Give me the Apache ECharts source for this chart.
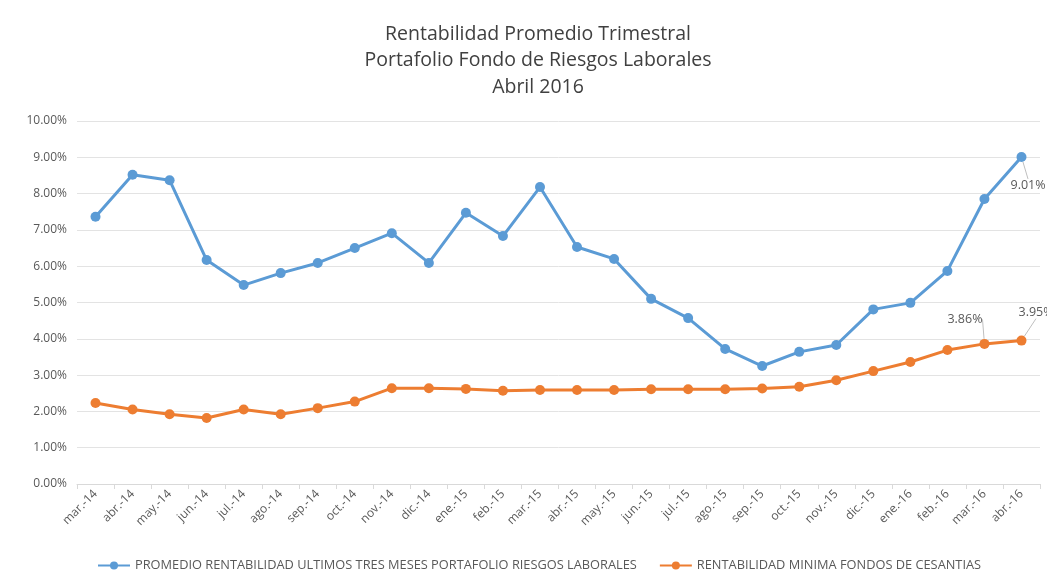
<!DOCTYPE html>
<html>
<head>
<meta charset="UTF-8">
<title></title>
<script src="https://cdn.jsdelivr.net/npm/echarts@6/dist/echarts.min.js"></script>
<style>
	body { margin: 0; background: #fff; }
</style>
</head>
<body>
	<div id="main" style="width: 1047px; height: 587px;"></div>
	<script>
		// categorias (meses)
		var meses = ['mar.-14','abr.-14','may.-14','jun.-14','jul.-14','ago.-14','sep.-14','oct.-14','nov.-14','dic.-14',
			'ene.-15','feb.-15','mar.-15','abr.-15','may.-15','jun.-15','jul.-15','ago.-15','sep.-15','oct.-15',
			'nov.-15','dic.-15','ene.-16','feb.-16','mar.-16','abr.-16'];
		// promedio rentabilidad ultimos tres meses (%)
		var promedio = [7.36, 8.52, 8.37, 6.17, 5.48, 5.81, 6.09, 6.50, 6.91, 6.09,
			7.47, 6.83, 8.18, 6.53, 6.20, 5.10, 4.57, 3.72, 3.25, 3.64,
			3.83, 4.81, 4.99, 5.87, 7.85, 9.01];
		// rentabilidad minima fondos de cesantias (%)
		var minima = [2.23, 2.05, 1.92, 1.82, 2.05, 1.92, 2.09, 2.27, 2.64, 2.64,
			2.62, 2.57, 2.59, 2.59, 2.59, 2.61, 2.61, 2.61, 2.63, 2.68,
			2.86, 3.11, 3.36, 3.69, 3.86, 3.95];

		var fuente = '"Open Sans", "Noto Sans", sans-serif';
		var gris = '#595959';

		function conEtiqueta(valores, idx, offs) {
			return valores.map(function (v, i) {
				var k = idx.indexOf(i);
				if (k < 0) return v;
				return {
					value: v,
					label: {
						show: true,
						position: offs[k],
						formatter: function (p) { return p.value.toFixed(2) + '%'; },
						color: gris, fontSize: 12.5, fontFamily: fuente
					},
					labelLine: { show: true, lineStyle: { color: '#bfbfbf', width: 1 } }
				};
			});
		}

		var myChart = echarts.init(document.getElementById('main'));
		var option = {
			title: {
				text: 'Rentabilidad Promedio Trimestral\nPortafolio Fondo de Riesgos Laborales\nAbril 2016',
				left: 533,
				textAlign: 'center',
				top: 16,
				textStyle: { color: '#404040', fontSize: 19.5, fontWeight: 'normal', fontFamily: fuente, lineHeight: 26.5 }
			},
			grid: { left: 77, right: 7, top: 121, bottom: 103, containLabel: false },
			color: ['#5B9BD5', '#ED7D31'],
			legend: {
				bottom: 10,
				left: 92,
				itemWidth: 32,
				itemHeight: 10,
				itemGap: 22,
				textStyle: { color: gris, fontSize: 12.8, fontFamily: fuente }
			},
			xAxis: {
				type: 'category',
				data: meses,
				boundaryGap: true,
				axisLine: { lineStyle: { color: '#d9d9d9' } },
				axisTick: { show: true, lineStyle: { color: '#d9d9d9' }, length: 5 },
				axisLabel: { rotate: 45, interval: 0, color: gris, fontSize: 12, fontFamily: fuente, margin: 8 }
			},
			yAxis: {
				type: 'value',
				min: 0,
				max: 10,
				interval: 1,
				axisLine: { show: false },
				axisTick: { show: false },
				axisLabel: {
					color: gris, fontSize: 12, fontFamily: fuente, margin: 10,
					formatter: function (v) { return v.toFixed(2) + '%'; }
				},
				splitLine: { lineStyle: { color: '#e3e3e3' } }
			},
			series: [{
				name: 'PROMEDIO RENTABILIDAD ULTIMOS TRES MESES PORTAFOLIO RIESGOS LABORALES',
				type: 'line',
				data: conEtiqueta(promedio, [25], [[-6, 27]]),
				symbol: 'circle',
				symbolSize: 10,
				lineStyle: { width: 3 },
				z: 3
			}, {
				name: 'RENTABILIDAD MINIMA FONDOS DE CESANTIAS',
				type: 'line',
				data: conEtiqueta(minima, [24, 25], [[-32, -26], [2, -30]]),
				symbol: 'circle',
				symbolSize: 10,
				lineStyle: { width: 3 },
				z: 2
			}]
		};
		myChart.setOption(option);
	</script>
</body>
</html>
